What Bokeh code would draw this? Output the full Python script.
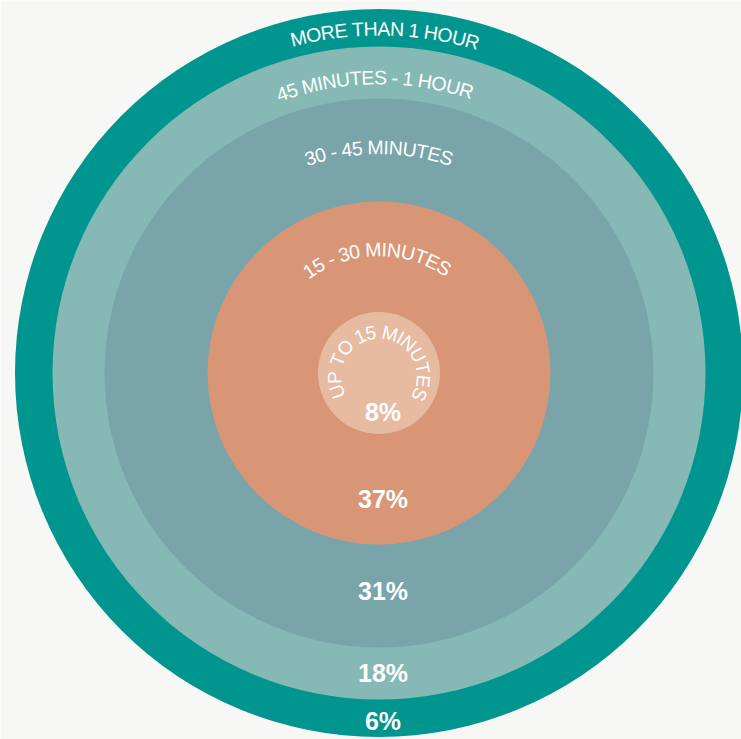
import math
from bokeh.plotting import figure
from bokeh.models import ColumnDataSource, Range1d
from bokeh.core.properties import value
from bokeh.embed import file_html
from bokeh.resources import INLINE

# ---- data ----
categories = ["UP TO 15 MINUTES", "15 - 30 MINUTES", "30 - 45 MINUTES",
              "45 MINUTES - 1 HOUR", "MORE THAN 1 HOUR"]
shares = [8, 37, 31, 18, 6]

# ---- layout / style ----
colors = ["#e6bba2", "#d99677", "#79a4aa", "#86b9b5", "#00958f"]
ring_radius = [61, 171.5, 274.5, 326.5, 364]
label_radius = [36.5, 115.8, 217.8, 287.8, 336.5]   # rendered baseline radius
label_size = [19, 19.5, 19.5, 19.5, 19.5]
label_track = [-1.3, -0.6, -0.6, -0.6, -0.6]         # px between letters
label_arc_shift = [1, -2, 0, -4, 6]                   # px along the arc
label_cy_shift = [3.5, 0, 0, 0, 0]
pct_offset = [38.5, 126, 218, 299.5, 348]
BASE_K = 0.41  # renderer draws the baseline ~0.41em low; compensate
CX, CY = 378.5, 372.5
BG = "#f7f7f5"
FONT = "Liberation Sans"
PW, PH = 741, 739

# Helvetica/Arial advance widths (1/1000 em)
W = {' ': 278, '-': 333, '%': 889, 'A': 667, 'B': 667, 'C': 722, 'D': 722, 'E': 667,
     'F': 611, 'G': 778, 'H': 722, 'I': 278, 'J': 500, 'K': 667, 'L': 556, 'M': 833,
     'N': 722, 'O': 778, 'P': 667, 'Q': 778, 'R': 722, 'S': 667, 'T': 611, 'U': 722,
     'V': 667, 'W': 944, 'X': 667, 'Y': 667, 'Z': 611}
for d in "0123456789":
    W[d] = 556

p = figure(width=PW, height=PH, output_backend="svg", toolbar_location=None,
           x_range=Range1d(0, PW), y_range=Range1d(PH, 0), min_border=0)
p.axis.visible = False
p.grid.visible = False
p.outline_line_color = None
p.background_fill_color = BG
p.border_fill_color = BG

# circles, largest first
order = list(range(len(categories)))[::-1]
circ = ColumnDataSource(dict(
    x=[CX] * len(order), y=[CY] * len(order),
    r=[ring_radius[i] for i in order],
    c=[colors[i] for i in order]))
p.circle(x="x", y="y", radius="r", fill_color="c", line_color=None, source=circ)

# curved category labels
xs, ys, ts, angs, sizes = [], [], [], [], []
for i, lab in enumerate(categories):
    fs = label_size[i]
    R = label_radius[i]
    Rp = R + BASE_K * fs
    cy = CY + label_cy_shift[i]
    tr = label_track[i]
    widths = [W.get(ch, 600) * fs / 1000.0 + tr for ch in lab]
    total = sum(widths) - tr
    s = -total / 2.0 + label_arc_shift[i]
    for ch, w in zip(lab, widths):
        mid = s + (w - tr) / 2.0
        th = mid / R
        xs.append(CX + Rp * math.sin(th))
        ys.append(cy - Rp * math.cos(th))
        ts.append(ch)
        angs.append(-th)
        sizes.append(f"{fs}px")
        s += w
lab_src = ColumnDataSource(dict(x=xs, y=ys, text=ts, angle=angs, size=sizes))
p.text(x="x", y="y", text="text", angle="angle", source=lab_src,
       text_font=value(FONT), text_font_size="size", text_color="white",
       text_align="center", text_baseline="alphabetic")

# percentage labels
pct_src = ColumnDataSource(dict(
    x=[CX + 4] * len(shares),
    y=[CY + o for o in pct_offset],
    text=[f"{v}%" for v in shares]))
p.text(x="x", y="y", text="text", source=pct_src,
       text_font=value(FONT), text_font_size="25px", text_font_style="bold",
       text_color="white", text_align="center", text_baseline="alphabetic")

open("out.html", "w").write(file_html(p, INLINE))
